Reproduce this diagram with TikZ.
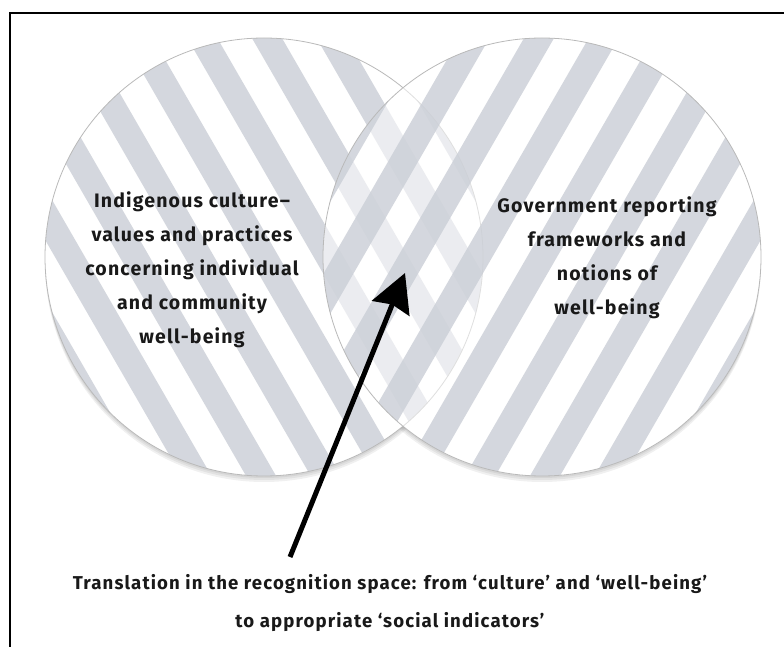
\documentclass[tikz,border=0pt]{standalone}
\usepackage{fontspec}
\setmainfont{Fira Sans}
\newfontfamily\vennfont[Ligatures=TeX, LetterSpace=6]{Fira Sans}
\usetikzlibrary{arrows.meta,positioning}
\definecolor{stripegray}{RGB}{202,206,214}

\begin{document}
\begin{tikzpicture}[
    x=1pt, y=1pt,
    venntext/.style={align=center, font=\vennfont\bfseries\fontsize{19.5}{34}\selectfont, text=black!90},
    stripe/.style={fill=stripegray, fill opacity=0.8},
    rim/.style={draw=gray!55, line width=0.8pt},
    dropshadow/.style={fill=black, fill opacity=0.06},
    arrow/.style={-{Stealth[length=38pt, width=40pt, inset=4pt]}, line width=5pt},
]

% Frame
\useasboundingbox (0,0) rectangle (784,646);
\draw[line width=2pt] (10,-10) |- (800,633);

% Circle centres
\coordinate (lc) at (264,389);
\coordinate (rc) at (542,389);

% Shadows
\foreach \d in {2,4,6} {
  \fill[dropshadow] ([yshift=-\d pt]lc) circle (219);
  \fill[dropshadow] ([yshift=-\d pt]rc) circle (219);
}
\fill[white] (rc) circle (219);

% Left circle
\fill[white] (lc) circle (219);
\begin{scope}
  \clip (lc) circle (219);
  \begin{scope}[shift={(lc)}, rotate=30]
    \foreach \k in {-5,...,5}
      \fill[stripe] (\k*56-13,-240) rectangle ++(26,480);
  \end{scope}
\end{scope}
\draw[rim] (lc) circle (219);

% Right circle
\fill[white, fill opacity=0.55] (rc) circle (219);
\begin{scope}
  \clip (rc) circle (219);
  \begin{scope}[shift={(rc)}, rotate=-30]
    \foreach \k in {-5,...,5}
      \fill[stripe] (\k*56-13,-240) rectangle ++(26,480);
  \end{scope}
\end{scope}
\draw[rim] (rc) circle (219);

% Labels
\node[venntext] (indig) at (192,376) {Indigenous culture--\\values and practices\\concerning individual\\and community\\well-being};
\node[venntext] (govt) at (607,388) {Government reporting\\frameworks and\\notions of\\well-being};
\node[venntext, font=\vennfont\bfseries\fontsize{18.6}{38}\selectfont] (transl) at (390,43) {Translation in the recognition space: from `culture' and `well-being'\\to appropriate `social indicators'};

% Arrow
\coordinate (tail) at (290,89);
\coordinate (tip) at (405,373);
\draw[arrow] (tail) -- (tip);

\end{tikzpicture}
\end{document}
